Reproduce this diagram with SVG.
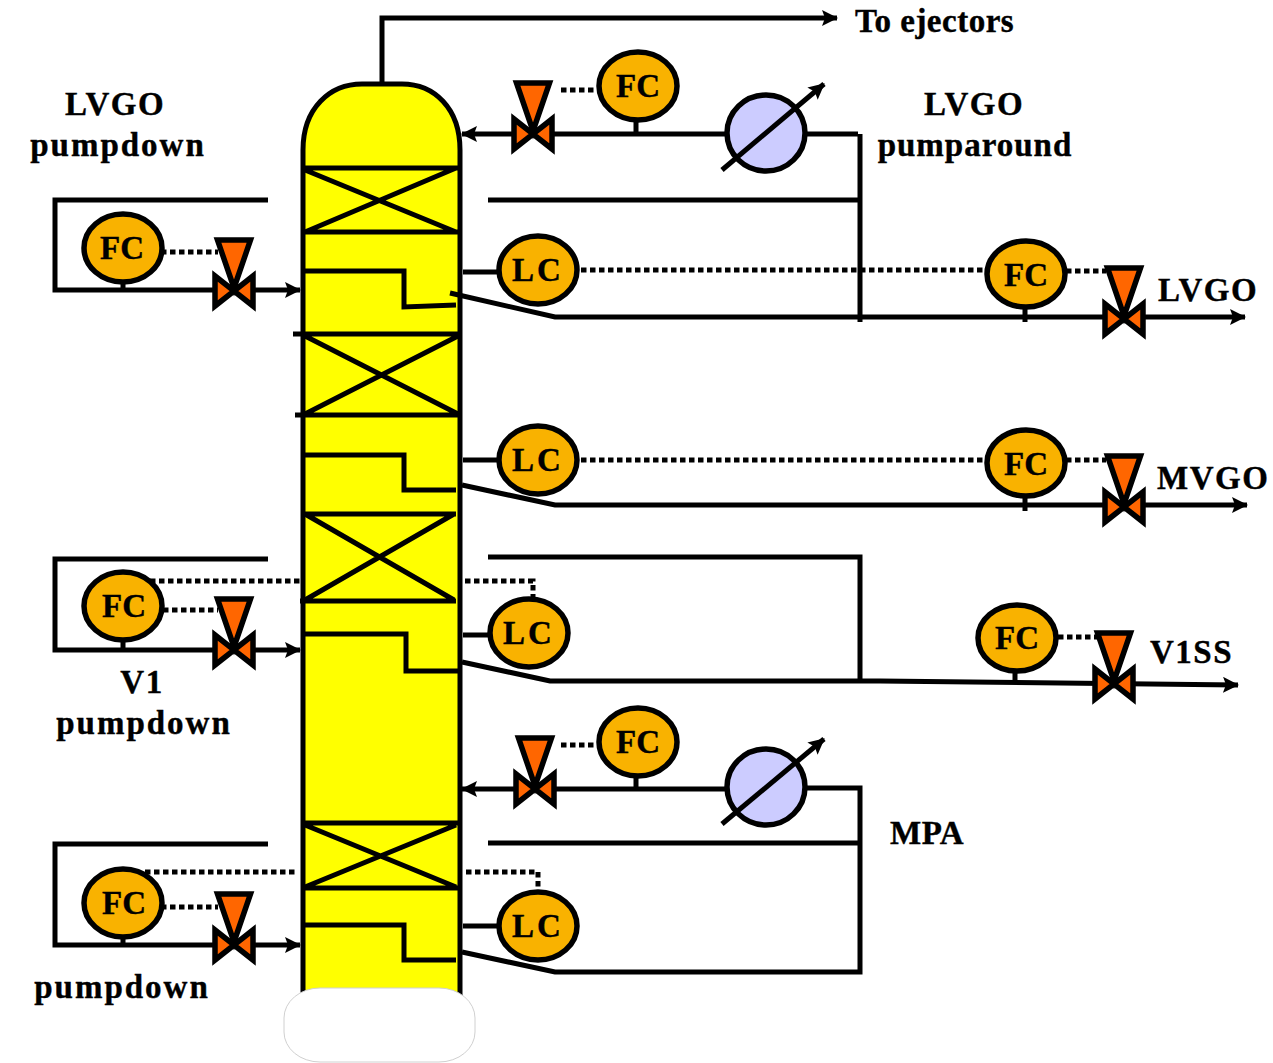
<svg xmlns="http://www.w3.org/2000/svg" width="1273" height="1063" viewBox="0 0 1273 1063">
<style>
.l{fill:none;stroke:#000;stroke-width:5}
.d{fill:none;stroke:#000;stroke-width:5;stroke-dasharray:5.500 3.500}
.c{fill:#f9b200;stroke:#000;stroke-width:5.500}
.hx{fill:#ccccff;stroke:#000;stroke-width:5.500}
.t{font-family:"Liberation Serif",serif;font-weight:bold;font-size:33px;fill:#000;letter-spacing:1.500px;stroke:#000;stroke-width:0.400px}
.m{text-anchor:middle}
.v{fill:#ff6600;stroke:#000;stroke-width:5.500;stroke-linejoin:miter}
</style>
<defs>
<marker id="a" viewBox="0 0 16 16" refX="15" refY="8" markerWidth="16" markerHeight="16" markerUnits="userSpaceOnUse" orient="auto"><path d="M0 0L16 8L0 16L3 8Z" fill="#000"/></marker>
<g id="valve"><path class="v" d="M-16.500 -51L16.500 -51L0 -3Z"/><path class="v" d="M-19 -15L0 0L19 -15L19 15L0 0L-19 15Z"/></g>
</defs>
<g id="column">
<path d="M303 1000V150C303 108 330 84 362 84H402C434 84 460 108 460 150V1000Z" fill="#ffff00" stroke="#000" stroke-width="5"/>
</g>
<g id="connectors">
<path class="l" d="M382 82V18H837" marker-end="url(#a)"/>
<path class="l" d="M303 168L458 168M303 232L458 232M305 170L456 232M305 232L456 168"/>
<path class="l" d="M293 334L462 334M295 415L462 415M305 336L458 414M305 414L458 336"/>
<path class="l" d="M303 514L456 514M300 601L456 601M305 600L454 514M305 514L454 600"/>
<path class="l" d="M303 823L460 823M303 888L458 888M305 825L456 887M305 887L456 825"/>
<path class="l" d="M303 271H404V307L456 305"/>
<path class="l" d="M303 455H404V490H456"/>
<path class="l" d="M305 634H406V671H460"/>
<path class="l" d="M303 925H404V960H456"/>
<path class="l" d="M450 293L555 317H1245" marker-end="url(#a)"/>
<path class="l" d="M462 485L555 505H1247" marker-end="url(#a)"/>
<path class="l" d="M462 662L550 681H880L1238 685" marker-end="url(#a)"/>
<path class="l" d="M462 952L555 972H860V788H806"/>
<path class="l" d="M858 134H806M726 134H462" marker-end="url(#a)"/>
<path class="l" d="M726 789H462" marker-end="url(#a)"/>
<path class="l" d="M488 200H860M860 134V322"/>
<path class="l" d="M488 557H860V683"/>
<path class="l" d="M488 843H860"/>
<path class="l" d="M268 200H55V290H300" marker-end="url(#a)"/>
<path class="l" d="M268 559H55V650H300" marker-end="url(#a)"/>
<path class="l" d="M268 844H55V945H300" marker-end="url(#a)"/>
<path class="l" d="M123 280V291M123 638V650M123 935V945M636 118V134M636 774V789M1025 305V322M1025 495V511M1015 670V683"/>
<path class="l" d="M463 272H500M463 460H500M463 635H492M463 926H500"/>
<path class="d" d="M161 252H218M163 610H218M161 907H218M561 90H597M561 745H597M1066 271H1106M1066 460H1106M1058 637H1098"/>
<path class="d" d="M581 270H985M581 460H985"/>
<path class="d" d="M150 581H300M465 581H533V597"/>
<path class="d" d="M145 872H298M466 872H538V887"/>
</g>
<g id="bottom-head"><rect x="284" y="988" width="191" height="74" rx="36" ry="30" fill="#fff" stroke="#d0d0d0" stroke-width="1"/></g>
<g id="hx-1"><ellipse class="hx" cx="766" cy="133" rx="39" ry="38"/><path class="l" d="M722 170L824 84" marker-end="url(#a)"/></g>
<g id="hx-2"><ellipse class="hx" cx="766" cy="787" rx="39" ry="38"/><path class="l" d="M722 824L824 739" marker-end="url(#a)"/></g>
<g id="v1"><use href="#valve" x="234" y="291"/></g>
<g id="v2"><use href="#valve" x="234" y="650"/></g>
<g id="v3"><use href="#valve" x="234" y="945"/></g>
<g id="v4"><use href="#valve" x="533" y="134"/></g>
<g id="v5"><use href="#valve" x="535" y="789"/></g>
<g id="v6"><use href="#valve" x="1124" y="319"/></g>
<g id="v7"><use href="#valve" x="1124" y="507"/></g>
<g id="v8"><use href="#valve" x="1114" y="684"/></g>
<g id="fc-1"><ellipse class="c" cx="123" cy="248" rx="39" ry="34"/><text class="t m" x="122" y="259" style="letter-spacing:0">FC</text></g>
<g id="fc-2"><ellipse class="c" cx="123" cy="606" rx="39" ry="34"/><text class="t m" x="124" y="617" style="letter-spacing:0">FC</text></g>
<g id="fc-3"><ellipse class="c" cx="123" cy="903" rx="39" ry="34"/><text class="t m" x="124" y="914" style="letter-spacing:0">FC</text></g>
<g id="fc-4"><ellipse class="c" cx="638" cy="86" rx="39" ry="34"/><text class="t m" x="638" y="97" style="letter-spacing:0">FC</text></g>
<g id="fc-5"><ellipse class="c" cx="638" cy="742" rx="39" ry="34"/><text class="t m" x="638" y="753" style="letter-spacing:0">FC</text></g>
<g id="fc-6"><ellipse class="c" cx="1026" cy="274" rx="39" ry="33"/><text class="t m" x="1026" y="286" style="letter-spacing:0">FC</text></g>
<g id="fc-7"><ellipse class="c" cx="1026" cy="463" rx="39" ry="33"/><text class="t m" x="1026" y="475" style="letter-spacing:0">FC</text></g>
<g id="fc-8"><ellipse class="c" cx="1017" cy="638" rx="39" ry="33"/><text class="t m" x="1017" y="649" style="letter-spacing:0">FC</text></g>
<g id="lc-1"><ellipse class="c" cx="538" cy="270" rx="39" ry="34"/><text class="t m" x="538" y="281" style="letter-spacing:3px">LC</text></g>
<g id="lc-2"><ellipse class="c" cx="538" cy="460" rx="39" ry="34"/><text class="t m" x="538" y="471" style="letter-spacing:3px">LC</text></g>
<g id="lc-3"><ellipse class="c" cx="529" cy="633" rx="39" ry="34"/><text class="t m" x="529" y="644" style="letter-spacing:3px">LC</text></g>
<g id="lc-4"><ellipse class="c" cx="538" cy="926" rx="39" ry="34"/><text class="t m" x="538" y="937" style="letter-spacing:3px">LC</text></g>
<g id="labels">
<text class="t" x="855" y="32" style="letter-spacing:0.500px">To ejectors</text>
<text class="t m" x="115" y="115">LVGO</text>
<text class="t m" x="118" y="156" style="letter-spacing:2px">pumpdown</text>
<text class="t m" x="974" y="115">LVGO</text>
<text class="t m" x="975" y="156" style="letter-spacing:1px">pumparound</text>
<text class="t" x="1158" y="301">LVGO</text>
<text class="t" x="1157" y="489">MVGO</text>
<text class="t" x="1150" y="663">V1SS</text>
<text class="t m" x="142" y="693">V1</text>
<text class="t m" x="144" y="734" style="letter-spacing:2px">pumpdown</text>
<text class="t" x="890" y="844" style="letter-spacing:0.500px">MPA</text>
<text class="t m" x="122" y="998" style="letter-spacing:2px">pumpdown</text>
</g>
</svg>
